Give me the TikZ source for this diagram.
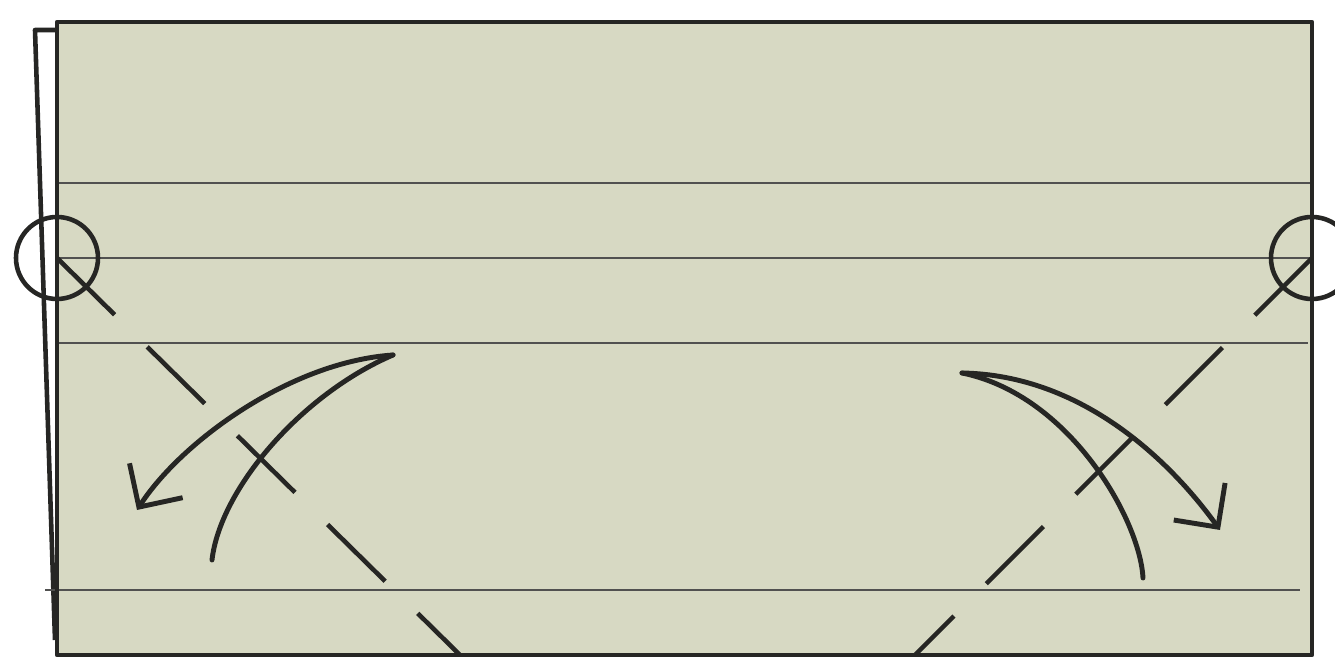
\documentclass[tikz,border=0pt]{standalone}
\usetikzlibrary{arrows.meta}
\definecolor{paper}{RGB}{215,217,195}
\definecolor{ink}{RGB}{38,38,36}
\begin{document}
\begin{tikzpicture}[x=0.01cm,y=-0.01cm,
    edge/.style={ink,line width=1.3pt,line join=round},
    crease/.style={ink!80,line width=0.6pt},
    valley/.style={ink,line width=1.3pt,dash pattern=on 23pt off 13pt},
    ring/.style={ink,line width=1.3pt},
    fold/.style={ink,line width=1.4pt,line cap=round},
    foldarrow/.style={fold,-{Straight Barb[length=9pt,width=18pt,line width=1.4pt]}}]
                \useasboundingbox(0,0)rectangle(1335,668);
                \coordinate(TL)at(57,22);
                \coordinate(TR)at(1312,22);
                \coordinate(BR)at(1312,655);
                \coordinate(BL)at(57,655);
                \coordinate(L)at(57,258);
                \coordinate(R)at(1312,258);
                \coordinate(DL)at(460,655);
                \coordinate(DR)at(915,655);
                \coordinate(AL)at(393,355);
                \coordinate(AR)at(962,373);
                \coordinate(EL)at(137,510);
                \coordinate(ER)at(1220,530);
                \coordinate(FL)at(212,560);
                \coordinate(FR)at(1143,578);
                \fill[paper](TL)rectangle(BR);
                \draw[edge](57,30)--(35,30)--(55,640);
                \draw[crease](57,183)--(1310,183);
                \draw[crease](57,258)--(1310,258);
                \draw[crease](57,343)--(1308,343);
                \draw[crease](45,590)--(1300,590);
                \draw[edge](TL)--(TR)--(BR)--(BL)--cycle;
                \draw[valley](L)--(DL);
                \draw[valley](R)--(DR);
                \draw[ring](L)circle[radius=41];
                \draw[ring](R)circle[radius=41];
                \draw[foldarrow](AL)..controls(290,362)and(181,442)..(EL);
                \draw[fold](AL)..controls(300,395)and(220,490)..(FL);
                \draw[foldarrow](AR)..controls(1080,375)and(1168,458)..(ER);
                \draw[fold](AR)..controls(1070,395)and(1140,520)..(FR);
            \end{tikzpicture}
\end{document}
